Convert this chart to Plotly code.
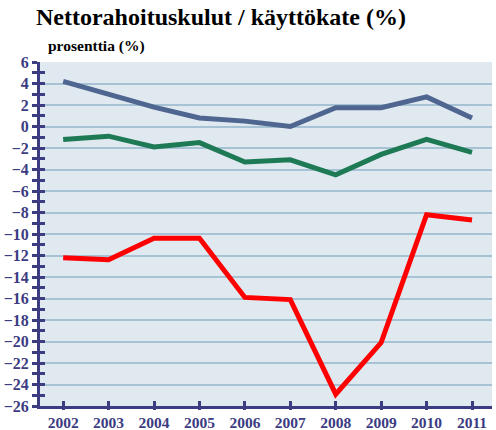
import plotly.graph_objects as go

years = [2002, 2003, 2004, 2005, 2006, 2007, 2008, 2009, 2010, 2011]
series_blue = [4.2, 3.0, 1.8, 0.8, 0.5, 0.0, 1.75, 1.75, 2.75, 0.8]
series_green = [-1.2, -0.9, -1.9, -1.5, -3.3, -3.1, -4.5, -2.6, -1.2, -2.4]
series_red = [-12.2, -12.4, -10.4, -10.4, -15.9, -16.1, -24.9, -20.1, -8.2, -8.7]
y_ticks = list(range(-26, 7, 2))

NAVY = "#3c3c82"
FONT = "Liberation Serif"

fig = go.Figure()
for vals, col in [(series_blue, "#4e6690"), (series_green, "#1e7a55"), (series_red, "#ff0000")]:
    fig.add_trace(go.Scatter(x=years, y=vals, mode="lines",
                             line=dict(color=col, width=5), showlegend=False,
                             hoverinfo="skip"))
# invisible trace for overlay axes
fig.add_trace(go.Scatter(x=[years[0]], y=[0], xaxis="x2", yaxis="y2", mode="markers",
                         marker=dict(opacity=0), showlegend=False, hoverinfo="skip"))

xr = [2001.49, 2011.44]
yr = [-26, 6]
fig.update_layout(
    width=496, height=430,
    margin=dict(l=40, r=4, t=62, b=24),
    paper_bgcolor="white",
    plot_bgcolor="#e0e8f0",
    xaxis=dict(range=xr, tickvals=years, ticktext=[str(y) for y in years],
               showgrid=False, zeroline=False, showline=True, linecolor=NAVY, linewidth=3,
               ticks="inside", ticklen=5, tickwidth=2.5, tickcolor=NAVY,
               automargin=False,
               tickfont=dict(family=FONT, size=15.5, color=NAVY, weight="bold")),
    xaxis2=dict(range=xr, overlaying="x", tickvals=years, showticklabels=False,
                showgrid=False, zeroline=False, showline=False,
                ticks="outside", ticklen=3, tickwidth=2.5, tickcolor=NAVY),
    yaxis=dict(range=yr, tickvals=y_ticks, showgrid=True, gridcolor="#a7c2d4", gridwidth=1.5,
               zeroline=False, showline=True, linecolor=NAVY, linewidth=3,
               ticks="outside", ticklen=5, tickwidth=2.5, tickcolor=NAVY,
               automargin=False,
               minor=dict(dtick=1, tick0=0, ticks="outside", ticklen=5, tickwidth=2.5,
                          tickcolor=NAVY, showgrid=False),
               tickfont=dict(family=FONT, size=16, color=NAVY, weight="bold")),
    yaxis2=dict(range=yr, overlaying="y", tickvals=y_ticks, showticklabels=False,
                showgrid=False, zeroline=False, showline=False,
                ticks="inside", ticklen=5, tickwidth=2.5, tickcolor=NAVY,
                minor=dict(dtick=1, tick0=0, ticks="inside", ticklen=5, tickwidth=2.5,
                           tickcolor=NAVY, showgrid=False)),
    annotations=[
        dict(text="Nettorahoituskulut / käyttökate (%)", xref="paper", yref="paper",
             x=-0.014, y=1.0, yshift=60, xanchor="left", yanchor="top", showarrow=False,
             font=dict(family=FONT, size=24, color="black", weight="bold")),
        dict(text="prosenttia (%)", xref="paper", yref="paper",
             x=0.013, y=1.0, yshift=27, xanchor="left", yanchor="top", showarrow=False,
             font=dict(family=FONT, size=15.5, color="black", weight="bold")),
    ],
)
fig.write_html("out.html", config={"displayModeBar": False},
               post_script="document.body.style.margin='0';")
